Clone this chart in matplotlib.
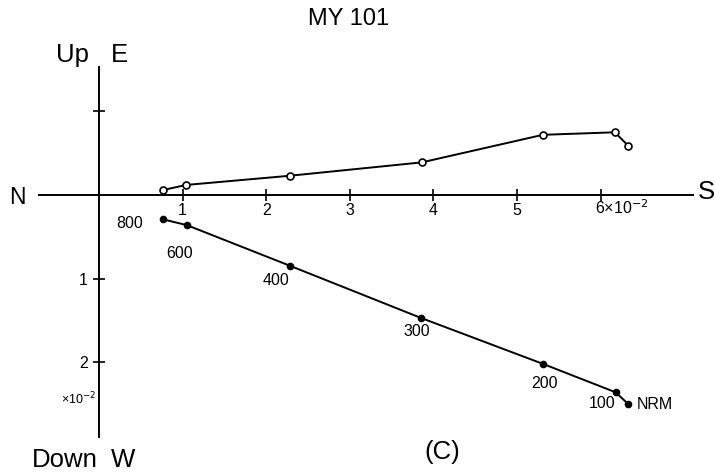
#!/usr/bin/env python3
"""
Zijderveld diagram for specimen MY 101 (thermal demagnetisation).
Values read from the published figure, units of 10^-2.
"""

import matplotlib.pyplot as plt

plt.rcParams["font.family"] = ["Liberation Sans", "DejaVu Sans"]

# Horizontal axis: N-S component (positive = S)
open_x = [0.77, 1.04, 2.28, 3.86, 5.31, 6.17, 6.33]
open_y = [0.06, 0.12, 0.23, 0.39, 0.72, 0.75, 0.59]     # Up/Down projection

solid_x = [0.76, 1.05, 2.28, 3.85, 5.31, 6.18, 6.33]
solid_y = [-0.29, -0.36, -0.845, -1.47, -2.02, -2.36, -2.50]  # E/W projection

steps = ["800", "600", "400", "300", "200", "100", "NRM"]

x_ticks = [1, 2, 3, 4, 5, 6]
x_tick_labels = ["1", "2", "3", "4", "5", ""]
y_ticks = [1, -1, -2]
y_tick_labels = ["", "1", "2"]

# label offsets (points) for the step labels
label_offsets = [(-23.8, -2.9), (-5.0, -20.2), (-9.7, -10.5), (-3.2, -9.6),
                 (1.1, -14.2), (-9.9, -7.9), (6.5, -0.4)]

scale = 83.6  # pixels per unit
fig = plt.figure(figsize=(7.15, 4.72), dpi=100)
ax = fig.add_axes([0, 0, 1, 1])
ax.set_xlim(-99 / scale, (715 - 99) / scale)
ax.set_ylim((195 - 472) / scale, 195 / scale)

for side in ["top", "right"]:
    ax.spines[side].set_visible(False)
ax.spines["left"].set_position(("data", 0))
ax.spines["bottom"].set_position(("data", 0))
ax.spines["left"].set_bounds((195 - 436.7) / scale, (195 - 66.7) / scale)
ax.spines["bottom"].set_bounds((39 - 99) / scale, (693 - 99) / scale)
for side in ["left", "bottom"]:
    ax.spines[side].set_linewidth(1.4)

ax.set_xticks(x_ticks)
ax.set_xticklabels(x_tick_labels, fontsize=11.5)
ax.set_yticks(y_ticks)
ax.set_yticklabels(y_tick_labels, fontsize=11.5)
ax.tick_params(axis="both", direction="inout", length=8.5, width=1.2)
ax.tick_params(axis="x", pad=1.5)
ax.tick_params(axis="y", pad=4)

ax.text(5.93, -0.04, "6×10$^{-2}$", fontsize=11.5, ha="left", va="top")
ax.text(-0.03, (195 - 399) / scale, "×10$^{-2}$", fontsize=9, ha="right", va="center")

# data
ax.plot(open_x, open_y, color="black", linewidth=1.4, marker="o", markersize=5,
        markerfacecolor="white", markeredgecolor="black", markeredgewidth=1.2)
ax.plot(solid_x, solid_y, color="black", linewidth=1.4, marker="o", markersize=4.5,
        markerfacecolor="black", markeredgecolor="black")

for sx, sy, lab, off in zip(solid_x, solid_y, steps, label_offsets):
    ax.annotate(lab, (sx, sy), xytext=off, textcoords="offset points",
                ha="left" if lab == "NRM" else "center", va="center", fontsize=11.5)

# axis labels
big = 18.5
ax.text((17.5 - 99) / scale, (195 - 198) / scale, "N", fontsize=16.5, ha="center", va="center")
ax.text((706 - 99) / scale, (195 - 191.7) / scale, "S", fontsize=big, ha="center", va="center")
ax.text((73 - 99) / scale, (195 - 62) / scale, "Up", fontsize=big, ha="center", va="baseline")
ax.text((119 - 99) / scale, (195 - 62) / scale, "E", fontsize=big, ha="center", va="baseline")
ax.text((65 - 99) / scale, (195 - 467) / scale, "Down", fontsize=big, ha="center", va="baseline")
ax.text((123.5 - 99) / scale, (195 - 467) / scale, "W", fontsize=big, ha="center", va="baseline")

fig.text(349 / 715, 1 - 19 / 472, "MY 101", fontsize=17, ha="center", va="center")
fig.text(442.5 / 715, 1 - 452.5 / 472, "(C)", fontsize=18.5, ha="center", va="center")

plt.savefig("out.png", dpi=100)
